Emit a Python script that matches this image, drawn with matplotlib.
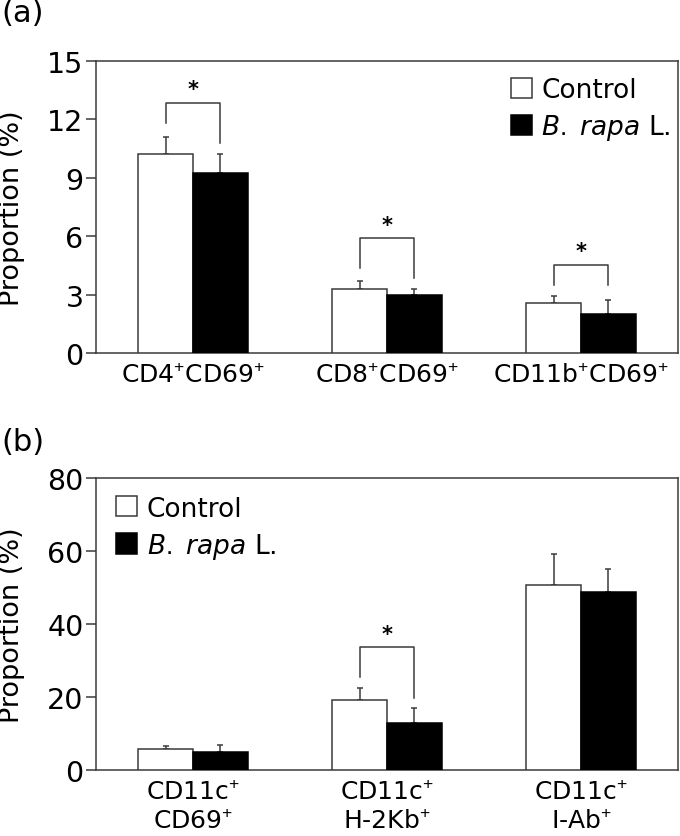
import matplotlib
matplotlib.use("Agg")
import matplotlib.pyplot as plt
from matplotlib.patches import Patch
import numpy as np

plt.rcParams['font.family'] = ['DejaVu Sans']
plt.rcParams['mathtext.fontset'] = 'custom'
plt.rcParams['mathtext.rm'] = 'Liberation Sans'
plt.rcParams['mathtext.it'] = 'DejaVu Sans:italic'

# ---- data panel (a)
cats_a = [r'CD4$^{+}$CD69$^{+}$', r'CD8$^{+}$CD69$^{+}$', r'CD11b$^{+}$CD69$^{+}$']
ctrl_a = [10.22, 3.29, 2.55]
ctrl_a_err = [0.89, 0.42, 0.38]
brap_a = [9.26, 2.96, 2.02]
brap_a_err = [0.94, 0.34, 0.70]
# significance brackets: (group index, bracket y, left leg bottom, right leg bottom)
sig_a = [(0, 12.85, 11.8, 10.78), (1, 5.9, 4.36, 3.84), (2, 4.53, 3.5, 3.5)]
yticks_a = [0, 3, 6, 9, 12, 15]

# ---- data panel (b)
cats_b = ['CD11c$^{+}$\nCD69$^{+}$', 'CD11c$^{+}$\nH-2Kb$^{+}$', 'CD11c$^{+}$\nI-Ab$^{+}$']
ctrl_b = [5.75, 19.1, 50.7]
ctrl_b_err = [0.85, 3.3, 8.5]
brap_b = [4.8, 13.0, 48.7]
brap_b_err = [2.05, 4.0, 6.4]
sig_b = [(1, 33.6, 25.4, 19.7)]
yticks_b = [0, 20, 40, 60, 80]

legend_labels = ['Control', r'$\mathit{B.}$ $\mathit{rapa}$ L.']

W, H = 680, 837
fig = plt.figure(figsize=(W / 100, H / 100), dpi=100)
fig.patch.set_facecolor('white')

spine_c = '#3a3a3a'
bw = 0.283


def px_axes(left, top, right, bottom):
    return fig.add_axes([left / W, 1 - bottom / H, (right - left) / W, (bottom - top) / H])


def draw(ax, cats, ctrl, ctrl_err, brap, brap_err, sig, yticks, ymax):
    x = np.arange(len(cats))
    ax.bar(x - bw / 2, ctrl, bw, color='white', edgecolor=spine_c, linewidth=1.1, zorder=3)
    ax.bar(x + bw / 2, brap, bw, color='black', edgecolor='black', linewidth=1.1, zorder=3)
    ax.errorbar(x - bw / 2, ctrl, yerr=[np.zeros(len(x)), ctrl_err], fmt='none',
                ecolor=spine_c, elinewidth=1.1, capsize=2.5, capthick=1.1, zorder=2)
    ax.errorbar(x + bw / 2, brap, yerr=[np.zeros(len(x)), brap_err], fmt='none',
                ecolor=spine_c, elinewidth=1.1, capsize=2.5, capthick=1.1, zorder=2)
    for g, yb, yl, yr in sig:
        xl, xr = g - bw / 2, g + bw / 2
        ax.plot([xl, xl, xr, xr], [yl, yb, yb, yr], color=spine_c, lw=1.1)
        ax.text(g, yb + ymax * 0.012, '*', ha='center', va='bottom', fontsize=15,
                fontweight='bold', color='black')
    ax.set_xlim(-0.5, len(cats) - 0.5)
    ax.set_ylim(0, ymax)
    ax.set_yticks(yticks)
    ax.set_xticks(x)
    ax.set_xticklabels(cats, fontsize=18, linespacing=1.25)
    ax.tick_params(axis='x', length=0, pad=7)
    ax.tick_params(axis='y', length=7, width=1.1, color=spine_c, labelsize=20.5, pad=2)
    for s in ax.spines.values():
        s.set_color(spine_c)
        s.set_linewidth(1.1)
    ax.set_ylabel('Proportion (%)', fontsize=19.5, labelpad=0)
    ax.yaxis.set_label_coords(-0.122, 0.5)


ax1 = px_axes(96, 62, 678, 354)
draw(ax1, cats_a, ctrl_a, ctrl_a_err, brap_a, brap_a_err, sig_a, yticks_a, 15)

ax2 = px_axes(96, 479, 678, 771)
draw(ax2, cats_b, ctrl_b, ctrl_b_err, brap_b, brap_b_err, sig_b, yticks_b, 80)

handles = [Patch(facecolor='white', edgecolor=spine_c, linewidth=1.1),
           Patch(facecolor='black', edgecolor='black', linewidth=1.1)]

for ax, anchor in [(ax1, (0.713, 0.945)), (ax2, (0.035, 0.94))]:
    ax.legend(handles, legend_labels, loc='upper left', bbox_to_anchor=anchor,
              frameon=False, fontsize=19, handlelength=0.8, handleheight=0.8,
              handletextpad=0.35, labelspacing=0.35, borderpad=0, borderaxespad=0)

fig.text(1 / W, 1 - 14 / H, '(a)', fontsize=22, va='center', ha='left')
fig.text(1 / W, 1 - 443 / H, '(b)', fontsize=22, va='center', ha='left')

fig.savefig('out.png', dpi=100, facecolor='white')
